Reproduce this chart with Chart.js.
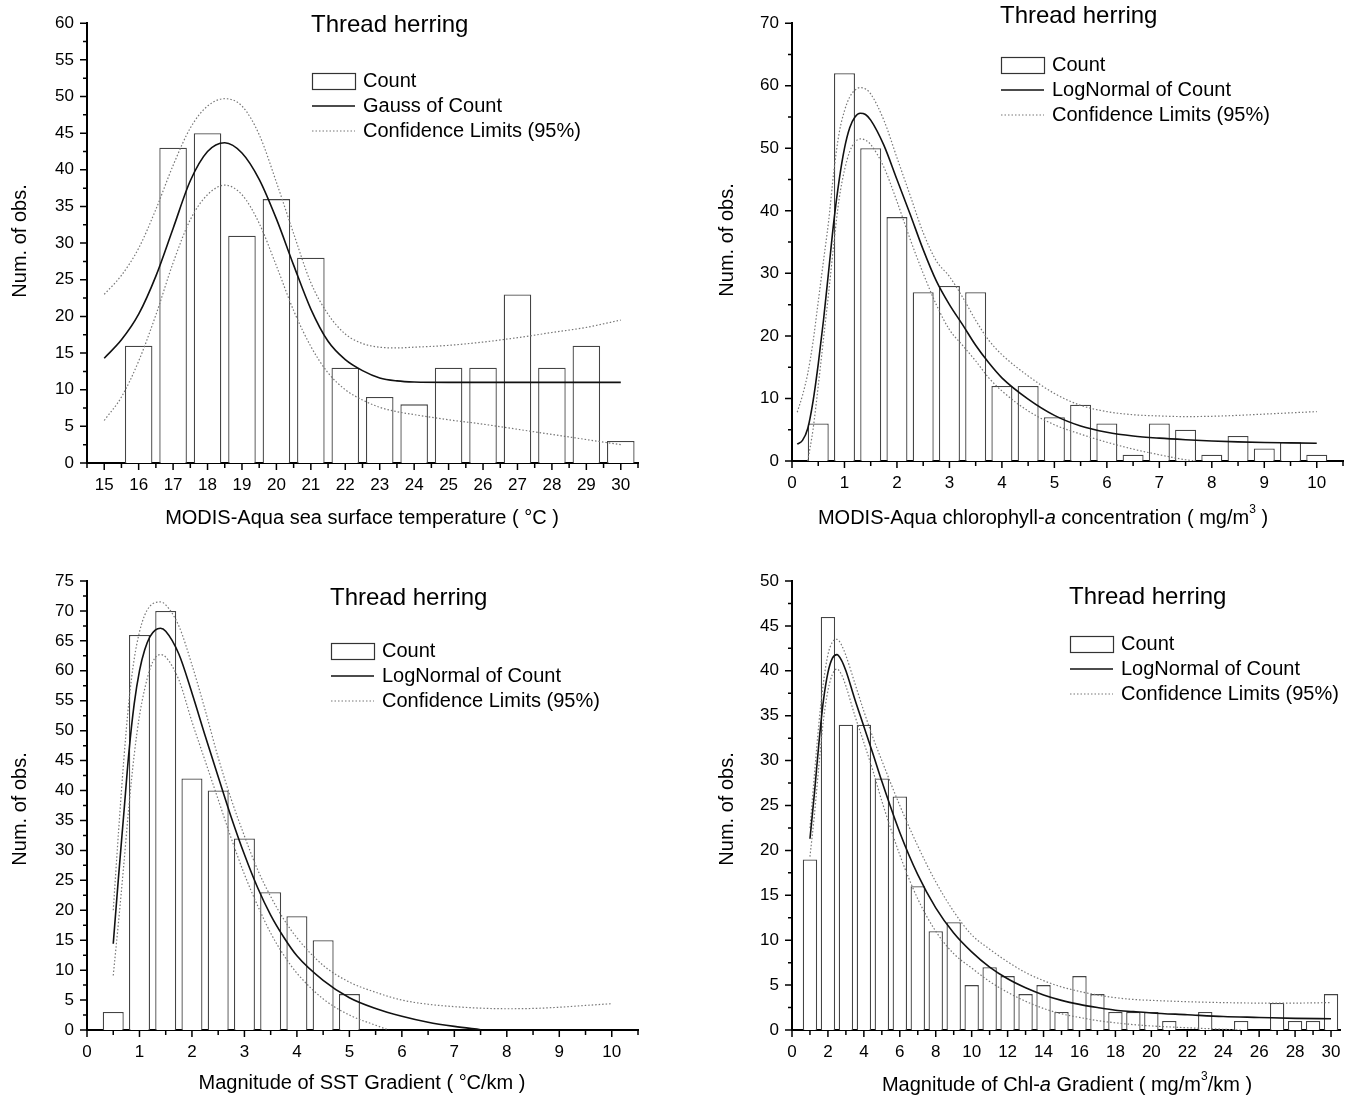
<!DOCTYPE html>
<html lang="en">
<head>
<meta charset="UTF-8">
<title>Thread herring - habitat histograms</title>
<script src="https://cdn.jsdelivr.net/npm/chart.js"></script>
<style>
  body { margin: 0; background: #fff; }
  #page { position: relative; width: 1358px; height: 1099px; overflow: hidden; }
  canvas { position: absolute; }
</style>
</head>
<body>
<div id="page">
  <canvas id="sstChart" width="679" height="549" style="left:0;top:0"></canvas>
  <canvas id="chlChart" width="679" height="549" style="left:679px;top:0"></canvas>
  <canvas id="sstGradChart" width="679" height="550" style="left:0;top:549px"></canvas>
  <canvas id="chlGradChart" width="679" height="550" style="left:679px;top:549px"></canvas>
</div>

<script>
const speciesName = 'Thread herring';

// --- sea surface temperature (top left) ---
const sstBins = [16, 17, 18, 19, 20, 21, 22, 23, 24, 25, 26, 27, 28, 29, 30];
const sstCounts = [16, 43, 45, 31, 36, 28, 13, 9, 8, 13, 13, 23, 13, 16, 3];
const sstFitX = [15, 15.5, 16, 16.5, 17, 17.5, 18, 18.5, 19, 19.5, 20, 20.5, 21, 21.5, 22, 22.5, 23, 23.5, 24, 25, 26, 27, 28, 29, 30];
const sstFit = [14.3, 16.8, 20.3, 25.5, 32.0, 38.5, 42.5, 43.7, 42.3, 38.7, 33.3, 27.0, 21.0, 16.6, 14.1, 12.6, 11.6, 11.2, 11.05, 11.0, 11.0, 11.0, 11.0, 11.0, 11.0];
const sstUpper = [23.0, 25.6, 29.3, 34.6, 40.6, 45.7, 48.7, 49.7, 48.7, 44.8, 38.3, 31.3, 24.6, 20.3, 17.6, 16.3, 15.8, 15.7, 15.8, 16.05, 16.5, 17.1, 17.8, 18.5, 19.5];
const sstLower = [5.8, 9.0, 13.9, 20.2, 27.3, 33.2, 36.6, 37.9, 36.6, 32.7, 26.9, 20.8, 15.9, 12.3, 10.0, 8.6, 7.6, 7.0, 6.6, 5.9, 5.3, 4.6, 3.9, 3.2, 2.5];

// --- chlorophyll-a concentration (top right) ---
const chlBins = [0.5, 1, 1.5, 2, 2.5, 3, 3.5, 4, 4.5, 5, 5.5, 6, 6.5, 7, 7.5, 8, 8.5, 9, 9.5, 10];
const chlCounts = [6, 62, 50, 39, 27, 28, 27, 12, 12, 7, 9, 6, 1, 6, 5, 1, 4, 2, 3, 1];
const chlFitX = [0.1, 0.2, 0.3, 0.4, 0.5, 0.6, 0.7, 0.8, 0.9, 1.0, 1.1, 1.2, 1.3, 1.4, 1.5, 1.75, 2.0, 2.25, 2.5, 2.75, 3.0, 3.25, 3.5, 3.75, 4.0, 4.5, 5.0, 5.5, 6.0, 6.5, 7.0, 7.5, 8.0, 8.5, 9.0, 9.5, 10.0];
const chlFit = [2.7, 3.3, 5.2, 9.5, 15.5, 22.5, 30.5, 38.5, 45, 50, 53.3, 55, 55.6, 55.4, 54.5, 50.5, 45, 39.5, 33.8, 28.8, 25.0, 21.8, 18.5, 15.7, 13.3, 9.9, 7.3, 5.6, 4.6, 4.0, 3.65, 3.4, 3.2, 3.05, 2.95, 2.9, 2.85];
const chlUpper = [7.8, 10.5, 14, 19, 25.5, 32, 38.5, 46.5, 52.5, 56, 58.2, 59.3, 59.7, 59.5, 58.7, 54.5, 48.5, 42.5, 36.5, 32, 29.5, 26.2, 22.5, 19.3, 17.0, 13.6, 10.8, 8.9, 7.9, 7.4, 7.2, 7.1, 7.15, 7.3, 7.5, 7.7, 7.9];
const chlLowX = [0.3, 0.4, 0.5, 0.6, 0.7, 0.8, 0.9, 1.0, 1.1, 1.2, 1.3, 1.4, 1.5, 1.75, 2.0, 2.25, 2.5, 2.75, 3.0, 3.25, 3.5, 3.75, 4.0, 4.5, 5.0, 5.5, 6.0, 6.5, 7.0, 7.5, 7.7];
const chlLower = [0, 5, 12, 19.5, 27, 35, 42, 46.5, 49.5, 51, 51.5, 51.3, 50.6, 47, 41.5, 35.5, 30, 25, 21, 18.5, 16, 13.3, 11.2, 8.0, 5.8, 4.3, 3.0, 1.9, 1.0, 0.2, 0];

// --- SST gradient (bottom left) ---
const sstGradBins = [0.5, 1, 1.5, 2, 2.5, 3, 3.5, 4, 4.5, 5];
const sstGradCounts = [3, 66, 70, 42, 40, 32, 23, 19, 15, 6];
const sstGradFitX = [0.5, 0.6, 0.7, 0.8, 0.9, 1.0, 1.1, 1.2, 1.3, 1.4, 1.5, 1.75, 2.0, 2.25, 2.5, 2.75, 3.0, 3.25, 3.5, 3.75, 4.0, 4.5, 5.0, 5.5, 6.0, 6.5, 7.0, 7.5];
const sstGradFit = [14.4, 25.5, 36, 46.5, 54.5, 60, 63.5, 65.7, 66.8, 67.1, 66.6, 62.8, 56.3, 49.2, 42.3, 35.5, 29.3, 23.8, 19.2, 15.5, 12.4, 8.3, 5.4, 3.6, 2.3, 1.3, 0.6, 0.05];
const sstGradUpX = [0.5, 0.6, 0.7, 0.8, 0.9, 1.0, 1.1, 1.2, 1.3, 1.4, 1.5, 1.75, 2.0, 2.25, 2.5, 2.75, 3.0, 3.25, 3.5, 3.75, 4.0, 4.5, 5.0, 5.5, 6.0, 6.5, 7.0, 7.5, 8.0, 8.5, 9.0, 9.5, 10.0];
const sstGradUpper = [20, 33, 45, 55, 62, 66.5, 69.3, 70.8, 71.4, 71.5, 71, 67.5, 61, 53.5, 45.5, 38.5, 32.4, 26.8, 22.3, 18.5, 15.4, 10.8, 8.0, 6.3, 5.0, 4.3, 3.9, 3.65, 3.55, 3.6, 3.8, 4.1, 4.4];
const sstGradLowX = [0.5, 0.6, 0.7, 0.8, 0.9, 1.0, 1.1, 1.2, 1.3, 1.4, 1.5, 1.75, 2.0, 2.25, 2.5, 2.75, 3.0, 3.25, 3.5, 3.75, 4.0, 4.5, 5.0, 5.5, 5.75];
const sstGradLower = [9.1, 18, 27.5, 37.5, 46, 52.5, 57, 60.3, 62.2, 62.7, 62.3, 58.5, 51.5, 45, 38.5, 32, 26, 20.8, 16.2, 12.5, 9.5, 5.2, 2.5, 0.8, 0];

// --- chlorophyll-a gradient (bottom right) ---
const chlGradBins = [1, 2, 3, 4, 5, 6, 7, 8, 9, 10, 11, 12, 13, 14, 15, 16, 17, 18, 19, 20, 21, 22, 23, 24, 25, 26, 27, 28, 29, 30];
const chlGradCounts = [19, 46, 34, 34, 28, 26, 16, 11, 12, 5, 7, 6, 4, 5, 2, 6, 4, 2, 2, 2, 1, 0, 2, 0, 1, 0, 3, 1, 1, 4];
const chlGradFitX = [1, 1.25, 1.5, 1.75, 2, 2.25, 2.5, 2.75, 3, 3.5, 4, 4.5, 5, 6, 7, 8, 9, 10, 11, 12, 13, 14, 15, 16, 17, 18, 19, 20, 22, 24, 26, 28, 30];
const chlGradFit = [21.3, 26.4, 32.0, 36.7, 39.8, 41.4, 41.8, 41.2, 40.0, 36.8, 33.8, 30.8, 27.7, 22.0, 17.3, 13.6, 10.8, 8.7, 7.0, 5.7, 4.7, 3.9, 3.3, 2.85, 2.5, 2.2, 2.05, 1.9, 1.7, 1.5, 1.4, 1.3, 1.25];
const chlGradUpper = [22.5, 28.5, 34.2, 38.7, 41.8, 43.2, 43.5, 42.9, 41.7, 38.6, 35.5, 32.6, 30.0, 25.0, 20.5, 16.5, 13.2, 10.6, 9.0, 7.6, 6.4, 5.5, 4.8, 4.3, 3.9, 3.6, 3.4, 3.3, 3.15, 3.05, 3.0, 3.0, 3.05];
const chlGradLowX = [1, 1.25, 1.5, 1.75, 2, 2.25, 2.5, 2.75, 3, 3.5, 4, 4.5, 5, 6, 7, 8, 9, 10, 11, 12, 13, 14, 15, 16, 17, 18, 19, 20, 22, 24, 25];
const chlGradLower = [19.3, 24, 29.5, 34.5, 37.8, 39.6, 40.2, 39.6, 38.3, 35, 32, 28.9, 25.5, 19.5, 14.6, 11.0, 8.5, 6.9, 5.4, 4.2, 3.2, 2.4, 1.8, 1.4, 1.05, 0.8, 0.6, 0.45, 0.25, 0.08, 0];

const textFont = '"Liberation Sans", Arial, sans-serif';
const tickFont = { family: '"Liberation Sans Narrow", "Liberation Sans", sans-serif', size: 17 };

function pts(xs, ys) {
  return xs.map((x, i) => ({ x: x, y: ys[i] }));
}

function onStep(v, step) {
  const r = v / step;
  return Math.abs(r - Math.round(r)) < 1e-6;
}

// Origin-style outward tick marks, major and minor
const tickMarks = {
  id: 'tickMarks',
  afterDraw(chart, args, o) {
    const ctx = chart.ctx;
    const xs = chart.scales.x, ys = chart.scales.y;
    const a = chart.chartArea;
    ctx.save();
    ctx.strokeStyle = '#000';
    ctx.lineWidth = 1.5;
    ctx.beginPath();
    const nx = Math.floor((xs.max - xs.min) / o.xMinor + 1e-6);
    for (let i = 0; i <= nx; i++) {
      const v = xs.min + i * o.xMinor;
      const px = xs.getPixelForValue(v);
      ctx.moveTo(px, a.bottom);
      ctx.lineTo(px, a.bottom + (onStep(v - o.xMajorFrom, o.xMajor) ? 7 : 5));
    }
    const ny = Math.floor((ys.max - ys.min) / o.yMinor + 1e-6);
    for (let i = 0; i <= ny; i++) {
      const v = ys.min + i * o.yMinor;
      const py = ys.getPixelForValue(v);
      ctx.moveTo(a.left, py);
      ctx.lineTo(a.left - (onStep(v, o.yMajor) ? 7 : 4), py);
    }
    ctx.stroke();
    ctx.restore();
  }
};

function drawRich(ctx, parts, x, y, size) {
  const fontFor = p => (p.italic ? 'italic ' : '') + (p.sup ? Math.round(size * 0.6) : size) + 'px ' + textFont;
  let w = 0;
  parts.forEach(p => { ctx.font = fontFor(p); w += ctx.measureText(p.text).width; });
  let cx = x - w / 2;
  parts.forEach(p => {
    ctx.font = fontFor(p);
    ctx.fillText(p.text, cx, p.sup ? y - size * 0.4 : y);
    cx += ctx.measureText(p.text).width;
  });
}

// species name, legend and axis titles
const panelText = {
  id: 'panelText',
  afterDraw(chart, args, o) {
    const ctx = chart.ctx;
    ctx.save();
    ctx.fillStyle = '#000';
    ctx.textBaseline = 'middle';
    ctx.textAlign = 'left';
    ctx.font = '24px ' + textFont;
    ctx.fillText(speciesName, o.legendX - 1, o.nameY);

    const r = o.rowY, bw = 43;
    ctx.strokeStyle = '#333';
    ctx.lineWidth = 1.2;
    ctx.strokeRect(o.legendX + 0.5, r - 8 + 0.5, bw, 16);
    ctx.beginPath();
    ctx.strokeStyle = '#111';
    ctx.lineWidth = 1.6;
    ctx.moveTo(o.legendX, r + 25);
    ctx.lineTo(o.legendX + bw, r + 25);
    ctx.stroke();
    ctx.beginPath();
    ctx.strokeStyle = '#777';
    ctx.lineWidth = 1.2;
    ctx.setLineDash([1.5, 2]);
    ctx.moveTo(o.legendX, r + 50);
    ctx.lineTo(o.legendX + bw, r + 50);
    ctx.stroke();
    ctx.setLineDash([]);

    ctx.font = '20px ' + textFont;
    ctx.fillText('Count', o.legendX + 51, r);
    ctx.fillText(o.fitName + ' of Count', o.legendX + 51, r + 25);
    ctx.fillText('Confidence Limits (95%)', o.legendX + 51, r + 50);

    drawRich(ctx, o.xTitle, o.xTitleX, o.xTitleY, 20);

    ctx.translate(o.yTitleX, o.yTitleY);
    ctx.rotate(-Math.PI / 2);
    ctx.textAlign = 'center';
    ctx.font = '20px ' + textFont;
    ctx.fillText('Num. of obs.', 0, 0);
    ctx.restore();
  }
};

function makePanel(id, p) {
  return new Chart(document.getElementById(id), {
    type: 'bar',
    data: {
      datasets: [
        { type: 'line', data: pts(p.fitX, p.fit), borderColor: '#111', borderWidth: 1.6,
          pointRadius: 0, cubicInterpolationMode: 'monotone', order: 1 },
        { type: 'line', data: pts(p.upX, p.upper), borderColor: '#777', borderWidth: 1.2,
          borderDash: [1.5, 2], pointRadius: 0, cubicInterpolationMode: 'monotone', order: 2 },
        { type: 'line', data: pts(p.lowX, p.lower), borderColor: '#777', borderWidth: 1.2,
          borderDash: [1.5, 2], pointRadius: 0, cubicInterpolationMode: 'monotone', order: 2 },
        { type: 'bar', data: pts(p.bins, p.counts), backgroundColor: '#fff', borderColor: '#444',
          borderWidth: 1.3, barPercentage: 0.8, categoryPercentage: 1, order: 3 }
      ]
    },
    options: {
      responsive: false,
      animation: false,
      events: [],
      layout: { padding: { top: p.padTop, right: p.padRight, left: 0, bottom: 0 } },
      plugins: {
        legend: { display: false },
        tooltip: { enabled: false },
        tickMarks: { xMinor: p.xMinor, xMajor: p.xStep, xMajorFrom: p.xFrom, yMinor: p.yStep / 2, yMajor: p.yStep },
        panelText: p.text
      },
      scales: {
        x: {
          type: 'linear', min: p.xMin, max: p.xMax, offset: false,
          grid: { display: false, drawTicks: false },
          border: { display: true, color: '#000', width: 2 },
          ticks: { autoSkip: false, maxRotation: 0, padding: 12, color: '#000', font: tickFont },
          afterBuildTicks: s => {
            const list = [];
            for (let v = p.xFrom; v <= p.xTo + 1e-6; v += p.xStep) list.push({ value: v });
            s.ticks = list;
          },
          afterFit: s => { s.height = p.xAxisH; }
        },
        y: {
          min: 0, max: p.yMax,
          grid: { display: false, drawTicks: false },
          border: { display: true, color: '#000', width: 2 },
          ticks: { stepSize: p.yStep, padding: 13, color: '#000', font: tickFont },
          afterFit: s => { s.width = p.yAxisW; }
        }
      }
    },
    plugins: [tickMarks, panelText]
  });
}

makePanel('sstChart', {
  bins: sstBins, counts: sstCounts, fitX: sstFitX, fit: sstFit,
  upX: sstFitX, upper: sstUpper, lowX: sstFitX, lower: sstLower,
  xMin: 14.5, xMax: 30.5, xFrom: 15, xTo: 30, xStep: 1, xMinor: 0.5, yMax: 60, yStep: 5,
  padTop: 15, padRight: 41, yAxisW: 87, xAxisH: 86,
  text: { fitName: 'Gauss', legendX: 312, nameY: 25, rowY: 81,
    xTitle: [{ text: 'MODIS-Aqua sea surface temperature ( °C )' }], xTitleX: 362, xTitleY: 518,
    yTitleX: 20, yTitleY: 241 }
});

makePanel('chlChart', {
  bins: chlBins, counts: chlCounts, fitX: chlFitX, fit: chlFit,
  upX: chlFitX, upper: chlUpper, lowX: chlLowX, lower: chlLower,
  xMin: 0, xMax: 10.5, xFrom: 0, xTo: 10, xStep: 1, xMinor: 0.5, yMax: 70, yStep: 10,
  padTop: 13, padRight: 15, yAxisW: 113, xAxisH: 88,
  text: { fitName: 'LogNormal', legendX: 322, nameY: 16, rowY: 65,
    xTitle: [{ text: 'MODIS-Aqua chlorophyll-' }, { text: 'a', italic: true }, { text: ' concentration ( mg/m' },
      { text: '3', sup: true }, { text: ' )' }],
    xTitleX: 364, xTitleY: 518, yTitleX: 48, yTitleY: 240 }
});

makePanel('sstGradChart', {
  bins: sstGradBins, counts: sstGradCounts, fitX: sstGradFitX, fit: sstGradFit,
  upX: sstGradUpX, upper: sstGradUpper, lowX: sstGradLowX, lower: sstGradLower,
  xMin: 0, xMax: 10.5, xFrom: 0, xTo: 10, xStep: 1, xMinor: 0.5, yMax: 75, yStep: 5,
  padTop: 32, padRight: 41, yAxisW: 87, xAxisH: 69,
  text: { fitName: 'LogNormal', legendX: 331, nameY: 49, rowY: 102,
    xTitle: [{ text: 'Magnitude of SST Gradient ( °C/km )' }], xTitleX: 362, xTitleY: 534,
    yTitleX: 20, yTitleY: 260 }
});

makePanel('chlGradChart', {
  bins: chlGradBins, counts: chlGradCounts, fitX: chlGradFitX, fit: chlGradFit,
  upX: chlGradFitX, upper: chlGradUpper, lowX: chlGradLowX, lower: chlGradLower,
  xMin: 0, xMax: 30.5, xFrom: 0, xTo: 30, xStep: 2, xMinor: 1, yMax: 50, yStep: 5,
  padTop: 32, padRight: 18, yAxisW: 113, xAxisH: 69,
  text: { fitName: 'LogNormal', legendX: 391, nameY: 48, rowY: 95,
    xTitle: [{ text: 'Magnitude of Chl-' }, { text: 'a', italic: true }, { text: ' Gradient ( mg/m' },
      { text: '3', sup: true }, { text: '/km )' }],
    xTitleX: 388, xTitleY: 536, yTitleX: 48, yTitleY: 260 }
});
</script>
</body>
</html>
